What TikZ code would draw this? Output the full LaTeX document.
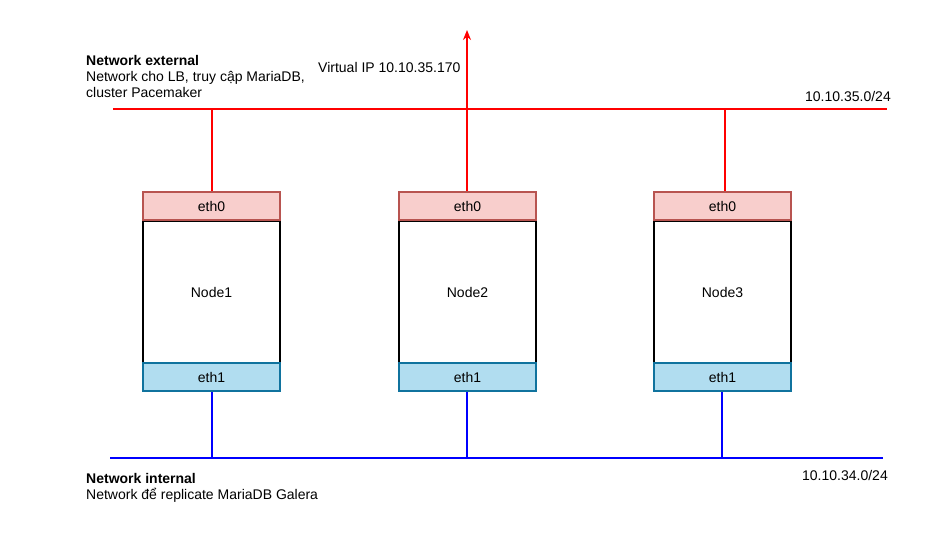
\documentclass[tikz,border=0pt]{standalone}
\usepackage{fontspec}
\setmainfont{Liberation Sans}
\usetikzlibrary{arrows.meta}
\definecolor{ethredfill}{HTML}{F8CECC}
\definecolor{ethredline}{HTML}{B85450}
\definecolor{ethbluefill}{HTML}{B1DDF0}
\definecolor{ethblueline}{HTML}{10739E}
\begin{document}
\begin{tikzpicture}[x=1pt,y=-1pt,
  txt/.style={font=\fontsize{14}{16}\selectfont, inner sep=0pt},
  ethtop/.style={draw=ethredline, fill=ethredfill, line width=1.5pt, minimum width=137pt, minimum height=28pt, inner sep=0pt, font=\fontsize{14}{16}\selectfont},
  ethbot/.style={draw=ethblueline, fill=ethbluefill, line width=1.5pt, minimum width=137pt, minimum height=28pt, inner sep=0pt, font=\fontsize{14}{16}\selectfont},
  body/.style={draw=black, line width=1.5pt, minimum width=137pt, minimum height=143pt, inner sep=0pt, font=\fontsize{14}{16}\selectfont},
  redline/.style={draw=red, line width=2pt},
  blueline/.style={draw=blue, line width=2pt}]
\useasboundingbox (0,0) rectangle (950,551);
% network lines
\coordinate (extL) at (113,109);
\coordinate (extR) at (887,109);
\coordinate (intL) at (110,458);
\coordinate (intR) at (883,458);
\draw[redline] (extL) -- (extR);
\draw[blueline] (intL) -- (intR);
% nodes
\foreach \n/\x in {1/211.5,2/467.5,3/722.5}{
  \node[body] (body\n) at (\x,292.5) {Node\n};
  \node[ethtop] (top\n) at (\x,206) {eth0};
  \node[ethbot] (bot\n) at (\x,377) {eth1};
}
% connectors
\coordinate (e1) at (212,109);
\coordinate (e2) at (467,109);
\coordinate (e3) at (725,109);
\coordinate (i1) at (212,458);
\coordinate (i2) at (467,458);
\coordinate (i3) at (722,458);
\coordinate (vip) at (467,30);
\draw[redline] (e1) -- (top1.north -| e1);
\draw[redline] (e2) -- (top2.north -| e2);
\draw[redline] (e3) -- (top3.north -| e3);
\draw[redline, -{Stealth[length=10pt,width=8pt]}] (e2) -- (vip);
\draw[blueline] (bot1.south -| i1) -- (i1);
\draw[blueline] (bot2.south -| i2) -- (i2);
\draw[blueline] (bot3.south -| i3) -- (i3);
% labels
\node[txt, align=left, anchor=base west] (extlbl) at (86,97) {\textbf{Network external}\\Network cho LB, truy cập MariaDB,\\cluster Pacemaker};
\node[txt, anchor=base west] (viplbl) at (318,73) {Virtual IP 10.10.35.170};
\node[txt, anchor=base east] (extnet) at (891,101) {10.10.35.0/24};
\node[txt, align=left, anchor=base west] (intlbl) at (86,499) {\textbf{Network internal}\\Network để replicate MariaDB Galera};
\node[txt, anchor=base east] (intnet) at (888,480) {10.10.34.0/24};
\end{tikzpicture}
\end{document}
